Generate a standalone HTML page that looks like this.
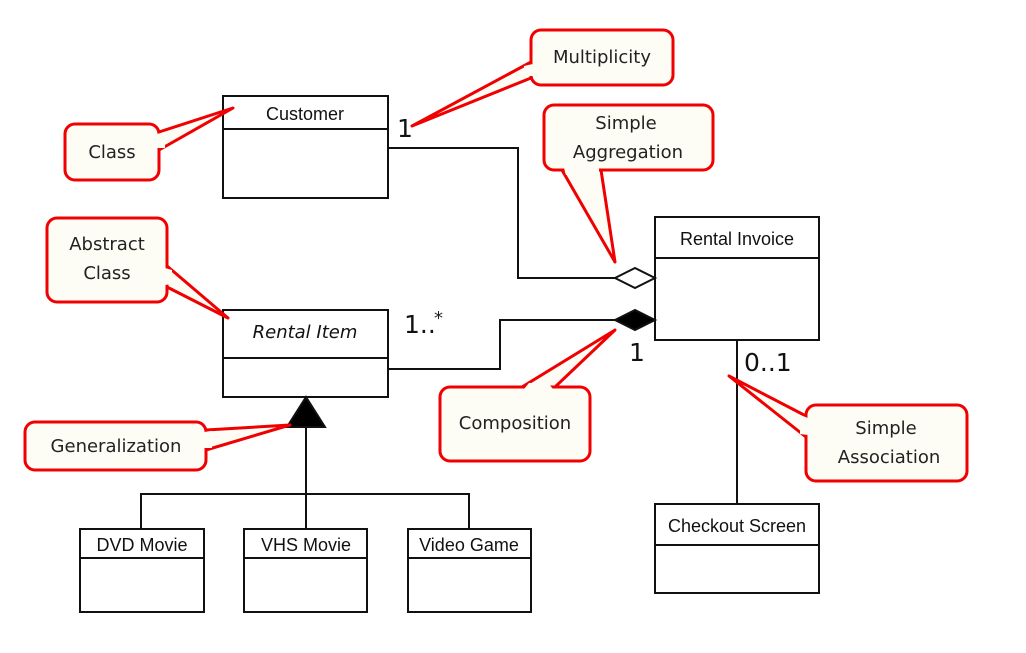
<!DOCTYPE html>
<html><head><meta charset="utf-8"><style>
html,body{margin:0;padding:0;background:#fff;}
svg{display:block;}
.cls{font-family:"Liberation Sans",sans-serif;font-size:18px;fill:#111;}
.lbl{font-family:"DejaVu Sans",sans-serif;font-size:18px;fill:#222;}
.mul{font-family:"DejaVu Sans",sans-serif;font-size:25px;fill:#111;}
</style></head><body>
<svg width="1026" height="653" viewBox="0 0 1026 653" xmlns="http://www.w3.org/2000/svg">
<g fill="none" stroke="#111" stroke-width="2">
<polyline points="388,148 518,148 518,278 615,278"/>
<polyline points="388,369 500,369 500,320 615,320"/>
<line x1="737" y1="340" x2="737" y2="504"/>
<line x1="306" y1="427" x2="306" y2="494"/>
<polyline points="141,529 141,494 469,494 469,529"/>
<line x1="306" y1="494" x2="306" y2="529"/>
<rect x="223" y="96" width="165" height="102" fill="#fff"/><line x1="223" y1="129" x2="388" y2="129"/>
<rect x="655" y="217" width="164" height="123" fill="#fff"/><line x1="655" y1="258" x2="819" y2="258"/>
<rect x="223" y="310" width="165" height="87" fill="#fff"/><line x1="223" y1="358" x2="388" y2="358"/>
<rect x="655" y="504" width="164" height="89" fill="#fff"/><line x1="655" y1="545" x2="819" y2="545"/>
<rect x="80" y="529" width="124" height="83" fill="#fff"/><line x1="80" y1="558" x2="204" y2="558"/>
<rect x="244" y="529" width="123" height="83" fill="#fff"/><line x1="244" y1="558" x2="367" y2="558"/>
<rect x="408" y="529" width="123" height="83" fill="#fff"/><line x1="408" y1="558" x2="531" y2="558"/>
<polygon points="615,278 635,268 655,278 635,288" fill="#fff"/>
<polygon points="615,320 635,310 655,320 635,330" fill="#000"/>
<polygon points="306,397 287,427 325,427" fill="#000"/>
</g>
<text class="cls" x="305" y="120" text-anchor="middle">Customer</text>
<text class="cls" x="737" y="245" text-anchor="middle">Rental Invoice</text>
<text class="cls" x="305" y="338" text-anchor="middle" font-style="italic" style="font-family:'DejaVu Sans',sans-serif;font-size:18px">Rental Item</text>
<text class="cls" x="737" y="532" text-anchor="middle">Checkout Screen</text>
<text class="cls" x="142" y="551" text-anchor="middle">DVD Movie</text>
<text class="cls" x="306" y="551" text-anchor="middle">VHS Movie</text>
<text class="cls" x="469" y="551" text-anchor="middle">Video Game</text>
<text class="mul" x="397" y="137">1</text>
<text class="mul" x="404" y="333">1..</text><text class="lbl" x="434" y="324" font-size="16">*</text>
<text class="mul" x="629" y="361">1</text>
<text class="mul" x="744" y="371">0..1</text>
<g stroke="#f00000" stroke-width="3" fill="#fdfdf6" stroke-linejoin="round">
<polygon points="159,132 233,108 159,150"/>
<rect x="65" y="124" width="94" height="56" rx="10"/>
<polygon points="531,62 412,126 531,78"/>
<rect x="531" y="30" width="142" height="55" rx="10"/>
<polygon points="562,170 615,262 601,170"/>
<rect x="544" y="105" width="169" height="65" rx="10"/>
<polygon points="167,266 228,318 167,287"/>
<rect x="47" y="218" width="120" height="84" rx="10"/>
<polygon points="522,387 615,330 555,387"/>
<rect x="440" y="387" width="150" height="74" rx="10"/>
<polygon points="806,416 729,376 806,437"/>
<rect x="806" y="405" width="161" height="76" rx="10"/>
<polygon points="206,430 290,425 206,450"/>
<rect x="25" y="422" width="181" height="48" rx="10"/>
</g>
<g fill="#fdfdf6">
<polygon points="157,134 165,132 165,148 157,148"/>
<polygon points="533,64 524,66 524,76 533,76"/>
<polygon points="564,168 599,168 599,175 566,175"/>
<polygon points="165,268 172,270 172,284 165,285"/>
<polygon points="524,389 553,389 548,383 529,383"/>
<polygon points="808,418 800,415 800,434 808,435"/>
<polygon points="204,432 212,431 212,448 204,448"/>
</g>
<g class="lbl" text-anchor="middle">
<text x="112" y="158">Class</text>
<text x="602" y="63">Multiplicity</text>
<text x="626" y="129">Simple</text>
<text x="628" y="158">Aggregation</text>
<text x="107" y="250">Abstract</text>
<text x="107" y="279">Class</text>
<text x="515" y="429">Composition</text>
<text x="886" y="434">Simple</text>
<text x="889" y="463">Association</text>
<text x="116" y="452">Generalization</text>
</g>
</svg>
</body></html>
